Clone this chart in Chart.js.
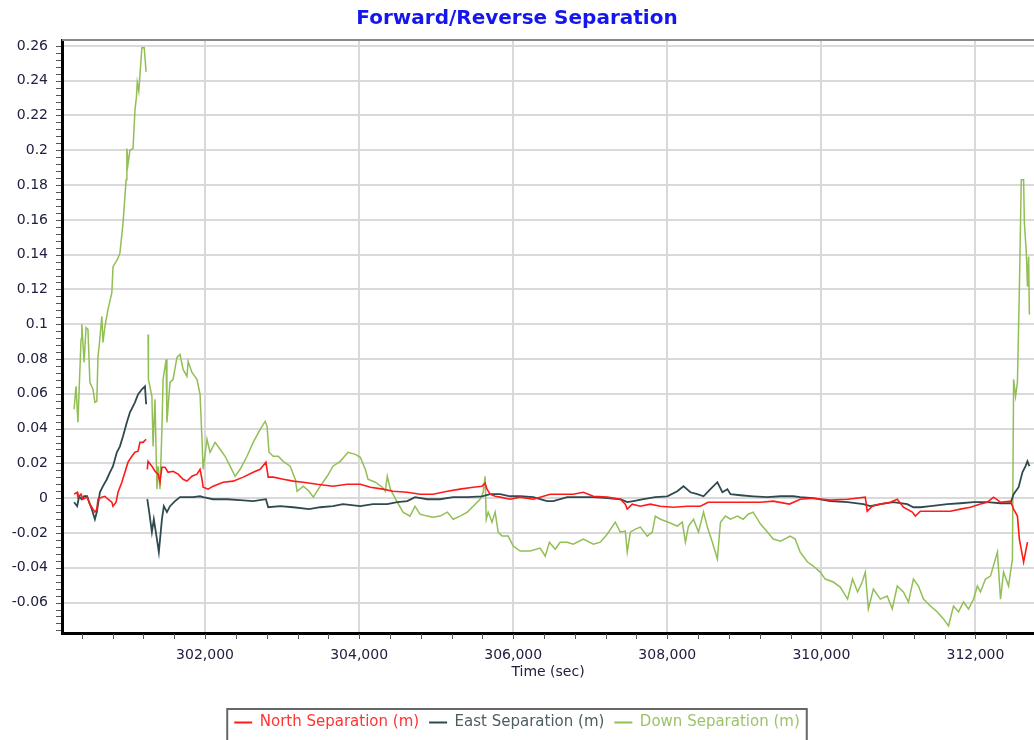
<!DOCTYPE html>
<html>
<head>
<meta charset="utf-8">
<script src="https://cdn.jsdelivr.net/npm/chart.js@4.4.1/dist/chart.umd.min.js"></script>
<style>
  html, body { margin: 0; padding: 0; background: #fff; }
</style>
</head>
<body>
<canvas id="sep" width="1034" height="740"></canvas>
<script>
// tick labels
var xTicks = [302000, 304000, 306000, 308000, 310000, 312000];
var yTicks = [-0.06, -0.04, -0.02, 0, 0.02, 0.04, 0.06, 0.08, 0.1, 0.12, 0.14, 0.16, 0.18, 0.2, 0.22, 0.24, 0.26];

// North separation (m); null marks the break between the two passes
var northTime = [300300, 300340, 300350, 300390, 300415, 300470, 300505, 300545, 300570, 300595, 300610, 300660, 300700, 300740, 300790, 300805, 300845, 300870, 300920, 300960, 301000, 301050, 301090, 301130, 301155, 301195, 301235,
  301242,
  301250, 301260, 301310, 301350, 301390, 301415, 301440, 301480, 301520, 301585, 301650, 301715, 301765, 301830, 301895, 301935, 301960, 301975, 302040, 302105, 302235, 302365, 302495, 302625, 302715, 302790, 302820, 302885, 303015, 303145, 303275, 303455, 303660, 303845, 304015, 304145, 304310, 304440, 304625, 304790, 304960, 305145, 305310, 305480, 305595, 305635, 305660, 305700, 305765, 305830, 305960, 306090, 306260, 306480, 306610, 306780, 306910, 307040, 307220, 307390, 307455, 307480, 307545, 307650, 307780, 307910, 308080, 308260, 308430, 308530, 308690, 308855, 309040, 309210, 309375, 309585, 309725, 309895, 310115, 310340, 310570, 310595, 310660, 310765, 310895, 310985, 311065, 311180, 311220, 311285, 311415, 311545, 311675, 311805, 311935, 312065, 312155, 312235, 312325, 312455, 312495, 312545, 312570, 312625, 312650, 312675];
var northSep = [0.0023, 0.0034, 0.0006, 0.0023, -0.0006, 0.0006, -0.0034, -0.0063, -0.0080, -0.0063, -0.0006, 0.0006, 0.0011, -0.0006, -0.0023, -0.0046, -0.0023, 0.0034, 0.0092, 0.0149, 0.0207, 0.0241, 0.0264, 0.0270, 0.0321, 0.0321, 0.0339,
  null,
  0.0166, 0.0212, 0.0184, 0.0155, 0.0138, 0.0092, 0.0178, 0.0178, 0.0149, 0.0155, 0.0138, 0.0109, 0.0098, 0.0126, 0.0138, 0.0166, 0.0109, 0.0063, 0.0052, 0.0069, 0.0092, 0.0098, 0.0121, 0.0149, 0.0166, 0.0207, 0.0121, 0.0121, 0.0109, 0.0098, 0.0092, 0.0080, 0.0069, 0.0080, 0.0080, 0.0063, 0.0052, 0.0040, 0.0034, 0.0023, 0.0023, 0.0040, 0.0052, 0.0063, 0.0069, 0.0086, 0.0052, 0.0023, 0.0011, 0.0006, -0.0006, 0.0006, -0.0006, 0.0023, 0.0023, 0.0023, 0.0034, 0.0011, 0.0006, -0.0006, -0.0034, -0.0063, -0.0034, -0.0046, -0.0034, -0.0046, -0.0052, -0.0046, -0.0046, -0.0023, -0.0023, -0.0023, -0.0023, -0.0023, -0.0017, -0.0034, -0.0006, 0, -0.0011, -0.0006, 0.0006, -0.0075, -0.0046, -0.0034, -0.0023, -0.0006, -0.0052, -0.0080, -0.0103, -0.0075, -0.0075, -0.0075, -0.0075, -0.0063, -0.0052, -0.0034, -0.0023, 0.0006, -0.0023, -0.0017, -0.0063, -0.0103, -0.0235, -0.0367, -0.0310, -0.0253];

// East separation (m)
var eastTime = [300300, 300340, 300365, 300400, 300430, 300470, 300495, 300530, 300570, 300595, 300635, 300675, 300725, 300765, 300805, 300855, 300895, 300935, 300985, 301025, 301090, 301130, 301180, 301220, 301235,
  301242,
  301250, 301275, 301310, 301335, 301375, 301400, 301440, 301465, 301505, 301545, 301610, 301675, 301765, 301845, 301935, 301975, 302105, 302285, 302455, 302625, 302790, 302820, 302975, 303145, 303350, 303495, 303660, 303790, 304015, 304180, 304365, 304495, 304625, 304725, 304885, 305050, 305220, 305405, 305595, 305700, 305830, 305960, 306090, 306260, 306440, 306520, 306700, 306870, 307040, 307220, 307390, 307480, 307560, 307690, 307845, 308000, 308130, 308210, 308300, 308390, 308470, 308560, 308650, 308715, 308780, 308820, 308950, 309115, 309300, 309470, 309635, 309725, 309895, 310115, 310340, 310545, 310635, 310765, 310935, 311115, 311195, 311285, 311415, 311635, 311805, 311975, 312155, 312325, 312455, 312495, 312560, 312610, 312650, 312675, 312700];
var eastSep = [-0.0023, -0.0046, 0.0011, -0.0006, 0.0011, 0.0011, -0.0023, -0.0063, -0.0121, -0.0080, 0.0034, 0.0069, 0.0109, 0.0149, 0.0184, 0.0264, 0.0298, 0.0356, 0.0436, 0.0494, 0.0551, 0.0597, 0.0626, 0.0643, 0.0540,
  null,
  -0.0006, -0.0080, -0.0195, -0.0121, -0.0235, -0.0310, -0.0121, -0.0046, -0.0080, -0.0046, -0.0017, 0.0006, 0.0006, 0.0006, 0.0011, 0.0006, -0.0006, -0.0006, -0.0011, -0.0017, -0.0006, -0.0052, -0.0046, -0.0052, -0.0063, -0.0052, -0.0046, -0.0034, -0.0046, -0.0034, -0.0034, -0.0023, -0.0017, 0.0006, -0.0006, -0.0006, 0.0006, 0.0006, 0.0011, 0.0023, 0.0023, 0.0011, 0.0011, 0.0006, -0.0017, -0.0017, 0.0006, 0.0006, 0.0006, 0, -0.0006, -0.0023, -0.0017, -0.0006, 0.0006, 0.0011, 0.0040, 0.0069, 0.0034, 0.0023, 0.0011, 0.0052, 0.0092, 0.0034, 0.0052, 0.0023, 0.0017, 0.0011, 0.0006, 0.0011, 0.0011, 0.0006, 0, -0.0017, -0.0023, -0.0034, -0.0046, -0.0034, -0.0023, -0.0034, -0.0052, -0.0052, -0.0046, -0.0034, -0.0029, -0.0023, -0.0023, -0.0029, -0.0029, 0.0023, 0.0063, 0.0149, 0.0184, 0.0212, 0.0184];

// Down separation (m)
var downTime = [300300, 300325, 300350, 300390, 300400, 300430, 300455, 300480, 300505, 300545, 300570, 300595, 300610, 300625, 300660, 300675, 300700, 300740, 300790, 300805, 300845, 300870, 300895, 300935, 300975, 300985, 301000, 301025, 301065, 301090, 301110, 301120, 301140, 301180, 301210, 301235,
  301242,
  301260, 301265, 301310, 301325, 301350, 301375, 301390, 301415, 301440, 301455, 301495, 301505, 301545, 301585, 301635, 301675, 301715, 301765, 301780, 301830, 301895, 301935, 301960, 301975, 302025, 302065, 302130, 302195, 302260, 302325, 302390, 302455, 302545, 302625, 302715, 302780, 302805, 302830, 302885, 302950, 303015, 303105, 303170, 303195, 303275, 303350, 303405, 303495, 303585, 303660, 303755, 303855, 303950, 304015, 304080, 304115, 304210, 304300, 304340, 304365, 304405, 304495, 304570, 304660, 304725, 304790, 304885, 304960, 305050, 305145, 305220, 305310, 305405, 305480, 305570, 305610, 305635, 305650, 305675, 305725, 305765, 305805, 305855, 305935, 306000, 306090, 306220, 306350, 306415, 306470, 306545, 306610, 306700, 306780, 306910, 307040, 307130, 307220, 307325, 307390, 307455, 307480, 307520, 307585, 307650, 307740, 307805, 307845, 307910, 308015, 308130, 308195, 308235, 308275, 308340, 308405, 308470, 308520, 308585, 308650, 308690, 308755, 308820, 308910, 308985, 309050, 309115, 309210, 309300, 309375, 309470, 309595, 309660, 309725, 309820, 309895, 309985, 310050, 310155, 310245, 310340, 310405, 310470, 310530, 310570, 310610, 310675, 310765, 310855, 310920, 310985, 311065, 311130, 311195, 311260, 311325, 311415, 311505, 311585, 311650, 311715, 311780, 311845, 311910, 311975, 312025, 312065, 312130, 312195, 312285, 312325, 312365, 312430, 312455, 312480, 312495, 312520, 312545, 312570, 312595, 312625, 312635, 312660, 312675, 312690, 312700];
var downSep = [0.0511, 0.0643, 0.0436, 0.0913, 0.0999, 0.0781, 0.0981, 0.0970, 0.0666, 0.0626, 0.0551, 0.0557, 0.0815, 0.0872, 0.1045, 0.0895, 0.0987, 0.1085, 0.1182, 0.1331, 0.1360, 0.1380, 0.1410, 0.1580, 0.1830, 0.2010, 0.1920, 0.2000, 0.2010, 0.2230, 0.2310, 0.2390, 0.2340, 0.2590, 0.2590, 0.2451,
  null,
  0.0941, 0.0683, 0.0585, 0.0298, 0.0568, 0.0052, 0.0184, 0.0052, 0.0396, 0.0683, 0.0798, 0.0436, 0.0666, 0.0683, 0.0809, 0.0826, 0.0740, 0.0700, 0.0786, 0.0723, 0.0683, 0.0597, 0.0339, 0.0166, 0.0339, 0.0264, 0.0321, 0.0281, 0.0241, 0.0184, 0.0126, 0.0166, 0.0241, 0.0321, 0.0396, 0.0442, 0.0413, 0.0264, 0.0241, 0.0241, 0.0212, 0.0184, 0.0109, 0.0040, 0.0069, 0.0040, 0.0006, 0.0069, 0.0126, 0.0184, 0.0212, 0.0264, 0.0252, 0.0235, 0.0166, 0.0109, 0.0092, 0.0063, 0.0040, 0.0126, 0.0052, -0.0023, -0.0080, -0.0103, -0.0046, -0.0092, -0.0103, -0.0109, -0.0103, -0.0080, -0.0121, -0.0103, -0.0080, -0.0046, -0.0006, 0.0034, 0.0126, -0.0121, -0.0080, -0.0138, -0.0080, -0.0195, -0.0218, -0.0218, -0.0275, -0.0304, -0.0304, -0.0287, -0.0333, -0.0253, -0.0293, -0.0253, -0.0253, -0.0264, -0.0235, -0.0264, -0.0253, -0.0207, -0.0138, -0.0195, -0.0189, -0.0310, -0.0195, -0.0178, -0.0166, -0.0218, -0.0195, -0.0103, -0.0121, -0.0138, -0.0161, -0.0138, -0.0253, -0.0161, -0.0121, -0.0195, -0.0080, -0.0166, -0.0253, -0.0350, -0.0138, -0.0103, -0.0121, -0.0103, -0.0121, -0.0092, -0.0080, -0.0149, -0.0195, -0.0235, -0.0247, -0.0218, -0.0235, -0.0310, -0.0367, -0.0390, -0.0425, -0.0465, -0.0482, -0.0511, -0.0580, -0.0465, -0.0539, -0.0482, -0.0425, -0.0637, -0.0522, -0.0580, -0.0562, -0.0637, -0.0505, -0.0539, -0.0597, -0.0465, -0.0505, -0.0580, -0.0620, -0.0654, -0.0694, -0.0735, -0.0620, -0.0654, -0.0597, -0.0637, -0.0580, -0.0505, -0.0539, -0.0465, -0.0448, -0.0310, -0.0580, -0.0425, -0.0505, -0.0425, -0.0350, 0.0683, 0.0585, 0.0666, 0.1200, 0.1831, 0.1831, 0.1584, 0.1412, 0.1217, 0.1389, 0.1056];

function pts(times, vals) {
    return times.map(function(t, i){ return {x: t, y: vals[i]}; });
}

var FONT = 'DejaVu Sans';
var TICK_COLOR = '#202040';

// small minor tick marks, top frame line and the legend frame
var decor = {
    id: 'decor',
    afterDraw: function(chart) {
        var ctx = chart.ctx;
        var a = chart.chartArea;
        var xs = chart.scales.x, ys = chart.scales.y;
        ctx.save();
        ctx.strokeStyle = '#8a8a8a';
        ctx.lineWidth = 2;
        ctx.beginPath();
        ctx.moveTo(a.left, a.top);
        ctx.lineTo(a.right, a.top);
        ctx.stroke();

        ctx.strokeStyle = '#555';
        ctx.lineWidth = 1;
        var xStep = (xTicks[1] - xTicks[0]) / 5;
        for (var v = Math.ceil(xs.min / xStep) * xStep; v <= xs.max; v += xStep) {
            var px = Math.round(xs.getPixelForValue(v)) + 0.5;
            ctx.beginPath();
            ctx.moveTo(px, a.bottom + 1);
            ctx.lineTo(px, a.bottom + 6);
            ctx.stroke();
        }
        var yStep = (yTicks[1] - yTicks[0]) / 5;
        for (var k = Math.ceil(ys.min / yStep); k * yStep <= ys.max; k++) {
            var py = Math.round(ys.getPixelForValue(k * yStep)) + 0.5;
            ctx.beginPath();
            ctx.moveTo(a.left - 6, py);
            ctx.lineTo(a.left - 1, py);
            ctx.stroke();
        }

        var boxes = chart.legend.legendHitBoxes;
        if (boxes && boxes.length) {
            var minX = Infinity, maxX = -Infinity, minY = Infinity;
            boxes.forEach(function(b){
                minX = Math.min(minX, b.left);
                maxX = Math.max(maxX, b.left + b.width);
                minY = Math.min(minY, b.top);
            });
            ctx.strokeStyle = '#666';
            ctx.lineWidth = 2;
            ctx.strokeRect(minX - 7, minY - 6, maxX - minX + 14, 60);
        }
        ctx.restore();
    }
};

var labelColors = ['#ff3333', '#4d5d62', '#9cc36a'];

var ctx = document.getElementById('sep').getContext('2d');
var chart = new Chart(ctx, {
    type: 'line',
    data: {
        datasets: [{
            label: 'North Separation (m)',
            data: pts(northTime, northSep),
            borderColor: '#ff1a1a',
            borderWidth: 1.6
        }, {
            label: 'East Separation (m)',
            data: pts(eastTime, eastSep),
            borderColor: '#2f4a4f',
            borderWidth: 1.8
        }, {
            label: 'Down Separation (m)',
            data: pts(downTime, downSep),
            borderColor: '#92bf55',
            borderWidth: 1.5
        }]
    },
    options: {
        responsive: false,
        animation: false,
        spanGaps: false,
        elements: { point: { radius: 0 }, line: { tension: 0 } },
        layout: { padding: 0 },
        scales: {
            x: {
                type: 'linear',
                min: 300143,
                max: 312760,
                afterBuildTicks: function(s){ s.ticks = xTicks.map(function(v){ return {value: v}; }); },
                afterFit: function(s){ s.height = 72; },
                grid: { color: '#d9d9d9', lineWidth: 2, drawTicks: false },
                border: { color: '#000', width: 3 },
                ticks: {
                    padding: 14, color: TICK_COLOR, maxRotation: 0, autoSkip: false,
                    font: { family: FONT, size: 14 },
                    callback: function(v){ return v.toLocaleString('en-US'); }
                },
                title: { display: true, text: 'Time (sec)', color: TICK_COLOR, font: { family: FONT, size: 14 }, padding: 24 }
            },
            y: {
                min: -0.0775,
                max: 0.2634,
                afterBuildTicks: function(s){ s.ticks = yTicks.map(function(v){ return {value: v}; }); },
                afterFit: function(s){ s.width = 62; },
                grid: { color: '#d9d9d9', lineWidth: 2, drawTicks: false },
                border: { color: '#000', width: 3 },
                ticks: {
                    padding: 14, color: TICK_COLOR, autoSkip: false,
                    font: { family: FONT, size: 14 },
                    callback: function(v){ return String(+v.toFixed(2)); }
                }
            }
        },
        plugins: {
            title: {
                display: true,
                text: 'Forward/Reverse Separation',
                color: '#1515ee',
                font: { family: FONT, size: 20, weight: 'bold' },
                padding: { top: 7, bottom: 9 }
            },
            legend: {
                position: 'bottom',
                labels: {
                    usePointStyle: true,
                    pointStyle: 'line',
                    pointStyleWidth: 18,
                    padding: 10,
                    font: { family: FONT, size: 15 },
                    generateLabels: function(c) {
                        var items = Chart.defaults.plugins.legend.labels.generateLabels(c);
                        items.forEach(function(it, i){ it.fontColor = labelColors[i]; it.lineWidth = 2; });
                        return items;
                    }
                }
            },
            tooltip: { enabled: false }
        }
    },
    plugins: [decor]
});
</script>
</body>
</html>
